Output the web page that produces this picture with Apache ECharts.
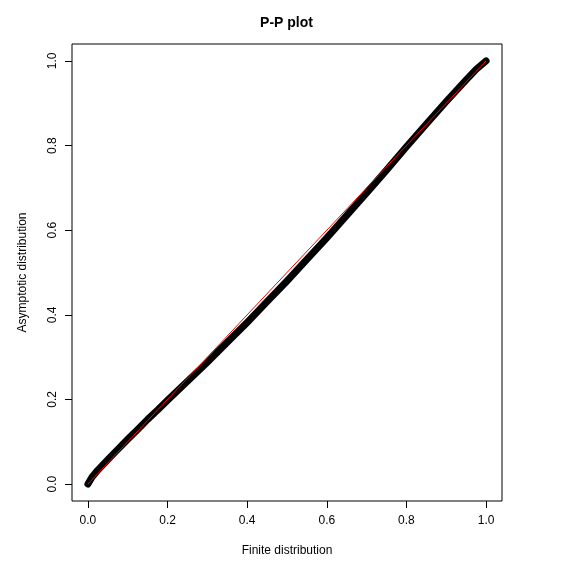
<!DOCTYPE html>
<html>
<head>
<meta charset="utf-8">
<script src="https://cdn.jsdelivr.net/npm/echarts@6/dist/echarts.min.js"></script>
<style>
html,body{margin:0;padding:0;background:#fff;}
#chart{width:573px;height:572px;}
</style>
</head>
<body>
<div id="chart"></div>
<script>
// Finite distribution (x) vs asymptotic distribution (y)
var finite = [0, 0.01, 0.025, 0.05, 0.075, 0.1, 0.125, 0.15, 0.175, 0.2, 0.25, 0.3, 0.35, 0.4, 0.45, 0.5, 0.55, 0.6, 0.65, 0.7, 0.75, 0.8, 0.85, 0.9, 0.95, 0.975, 1];
var asymptotic = [0, 0.016, 0.033, 0.058, 0.082, 0.106, 0.129, 0.153, 0.175, 0.198, 0.243, 0.288, 0.335, 0.382, 0.431, 0.48, 0.531, 0.582, 0.635, 0.688, 0.742, 0.797, 0.851, 0.904, 0.955, 0.98, 1];
// Reference line y = x
var refX = [0, 1];
var refY = [0, 1];
// Tick values
var ticks = [0, 0.2, 0.4, 0.6, 0.8, 1.0];

var pts = finite.map(function (x, i) { return [x, asymptotic[i]]; });
var refPts = refX.map(function (x, i) { return [x, refY[i]]; });

var FONT = '"Liberation Sans", Arial, Helvetica, sans-serif';

var chart = echarts.init(document.getElementById('chart'), null, {renderer: 'canvas'});
chart.setOption({
  animation: false,
  backgroundColor: '#ffffff',
  title: {
    text: 'P-P plot',
    left: 'center',
    top: 11,
    textStyle: {fontFamily: FONT, fontSize: 14, fontWeight: 'bold', color: '#000'}
  },
  grid: {
    left: 72, right: 71, top: 44, bottom: 71,
    show: true, borderColor: '#000', borderWidth: 1, backgroundColor: 'transparent'
  },
  xAxis: {
    type: 'value', min: -0.04, max: 1.04,
    name: 'Finite distribution', nameLocation: 'middle', nameGap: 44,
    nameTextStyle: {fontFamily: FONT, fontSize: 12, color: '#000'},
    axisLine: {show: false, onZero: false},
    splitLine: {show: false},
    axisTick: {show: true, customValues: ticks, length: 7, lineStyle: {color: '#000'}},
    axisLabel: {customValues: ticks, margin: 14, fontFamily: FONT, fontSize: 12, color: '#000',
      formatter: function (v) { return v.toFixed(1); }}
  },
  yAxis: {
    type: 'value', min: -0.04, max: 1.04,
    name: 'Asymptotic distribution', nameLocation: 'middle', nameGap: 43,
    nameTextStyle: {fontFamily: FONT, fontSize: 12, color: '#000'},
    axisLine: {show: false, onZero: false},
    splitLine: {show: false},
    axisTick: {show: true, customValues: ticks, length: 7, lineStyle: {color: '#000'}},
    axisLabel: {customValues: ticks, margin: 13, rotate: 90, fontFamily: FONT, fontSize: 12, color: '#000',
      formatter: function (v) { return v.toFixed(1); }}
  },
  series: [
    {
      type: 'line', data: pts, showSymbol: false, symbol: 'none', z: 2,
      lineStyle: {color: '#000', width: 7, cap: 'round', join: 'round'}
    },
    {
      type: 'line', data: refPts, showSymbol: false, symbol: 'none', z: 3,
      lineStyle: {color: '#ff0000', width: 1}
    }
  ]
});
</script>
</body>
</html>
